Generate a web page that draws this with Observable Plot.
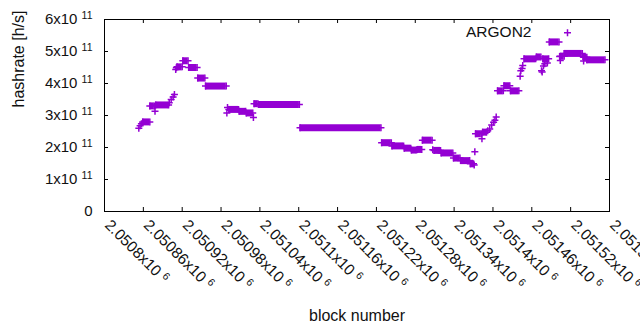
<!DOCTYPE html>
<html><head><meta charset="utf-8">
<script src="https://cdn.jsdelivr.net/npm/d3@7"></script>
<script src="https://cdn.jsdelivr.net/npm/@observablehq/plot@0.6"></script>
<style>body{margin:0;background:#fff} svg{font-family:"Liberation Sans",Arial,sans-serif}</style>
</head><body><div id="chart"></div>
<script>
// runs of consecutive blocks with the same hashrate (start block, end block, h/s)
const segStart = [2050859,2050870,2050879,2050912,2050921,2050930,2050944,2050956,2050992,2051008,2051019,2051031,2051038,2051102,2051228,2051244,2051263,2051274,2051283,2051291,2051309,2051320,2051339,2051350,2051365,2051373,2051384,2051407,2051417,2051427,2051448,2051467,2051477,2051487,2051504,2051510,2051540,2051545];
const segEnd   = [2050870,2050877,2050899,2050920,2050929,2050943,2050955,2050988,2051007,2051018,2051029,2051037,2051101,2051227,2051243,2051262,2051273,2051282,2051290,2051306,2051319,2051338,2051349,2051364,2051370,2051382,2051390,2051416,2051426,2051440,2051466,2051474,2051486,2051502,2051510,2051538,2051545,2051573];
const segValue = [2.80e11,3.30e11,3.33e11,4.52e11,4.71e11,4.50e11,4.17e11,3.92e11,3.19e11,3.13e11,3.08e11,3.37e11,3.34e11,2.62e11,2.15e11,2.05e11,1.98e11,1.92e11,1.94e11,2.23e11,1.91e11,1.83e11,1.67e11,1.59e11,1.49e11,2.43e11,2.48e11,3.77e11,3.93e11,3.77e11,4.77e11,4.83e11,4.77e11,5.30e11,4.85e11,4.94e11,4.82e11,4.74e11];
// isolated blocks
const ptBlock = [2050853,2050855,2050857,2050878,2050900,2050903,2050906,2050908,2050910,2050911,2050989,2050990,2051030,2051307,2051371,2051372,2051383,2051392,2051395,2051398,2051401,2051403,2051405,2051442,2051443,2051445,2051446,2051475,2051476,2051478,2051480,2051484,2051503,2051504,2051539,2051540];
const ptValue = [2.60e11,2.68e11,2.74e11,3.13e11,3.40e11,3.50e11,3.58e11,3.66e11,4.44e11,4.49e11,3.08e11,3.25e11,2.94e11,1.93e11,1.45e11,1.87e11,2.27e11,2.52e11,2.58e11,2.70e11,2.79e11,2.85e11,2.95e11,4.23e11,4.40e11,4.47e11,4.56e11,4.40e11,4.36e11,4.55e11,4.62e11,4.64e11,4.84e11,4.72e11,4.84e11,4.70e11];

const xTicks = [2050800,2050860,2050920,2050980,2051040,2051100,2051160,2051220,2051280,2051340,2051400,2051460,2051520,2051580];
const xTickLabels = ["2.0508x10^6","2.05086x10^6","2.05092x10^6","2.05098x10^6","2.05104x10^6","2.0511x10^6","2.05116x10^6","2.05122x10^6","2.05128x10^6","2.05134x10^6","2.0514x10^6","2.05146x10^6","2.05152x10^6","2.05158x10^6"];
const yTicks = [0,1e11,2e11,3e11,4e11,5e11,6e11];
const yTickLabels = ["0","1x10^11","2x10^11","3x10^11","4x10^11","5x10^11","6x10^11"];
const seriesName = "ARGON2";
const color = "#9400d3";

const segs = segStart.map((s,i)=>({x1:s, x2:segEnd[i], y:segValue[i]}));
const pts = ptBlock.map((b,i)=>({x:b, y:ptValue[i]}));
const crosses = pts.concat(segs.flatMap(d=>[{x:d.x1,y:d.y},{x:d.x2,y:d.y}]));

const cross = {draw(ctx, size){ const r = Math.sqrt(size/Math.PI); ctx.moveTo(-r,0); ctx.lineTo(r,0); ctx.moveTo(0,-r); ctx.lineTo(0,r); }};

const W = 640, H = 330, mL = 104, mR = 31, mT = 19, mB = 119;
const fw = W-mL-mR, fh = H-mT-mB;

const chart = Plot.plot({
  width: W, height: H,
  marginLeft: mL, marginRight: mR, marginTop: mT, marginBottom: mB,
  style: {fontFamily: '"Liberation Sans", Arial, sans-serif', background: "#fff"},
  x: {domain: [xTicks[0], xTicks[xTicks.length-1]], axis: null},
  y: {domain: [yTicks[0], yTicks[yTicks.length-1]], axis: null},
  marks: [
    Plot.ruleY(segs, {x1:"x1", x2:"x2", y:"y", stroke: color, strokeWidth: 7}),
    Plot.dot(crosses, {x:"x", y:"y", symbol: cross, r: 3.5, fill: "none", stroke: color, strokeWidth: 1.5}),
    Plot.frame({stroke: "black", strokeWidth: 1}),
    Plot.tickY(yTicks, {y: d=>d, insetRight: fw-4, stroke: "black"}),
    Plot.tickY(yTicks, {y: d=>d, insetLeft: fw-4, stroke: "black"}),
    Plot.tickX(xTicks, {x: d=>d, insetTop: fh-4, stroke: "black"}),
    Plot.tickX(xTicks, {x: d=>d, insetBottom: fh-4, stroke: "black"}),
    Plot.text(yTicks, {y: d=>d, frameAnchor: "left", text: (d,i)=>yTickLabels[i], textAnchor: "end", lineAnchor: "middle", dx: -12, fontSize: 15, fill: "#111"}),
    Plot.text(xTicks, {x: d=>d, frameAnchor: "bottom", text: (d,i)=>xTickLabels[i], rotate: 45, textAnchor: "start", lineAnchor: "middle", dx: 3, dy: 11, fontSize: 15.5, fill: "#111"}),
    Plot.text(["hashrate [h/s]"], {frameAnchor: "left", lineAnchor: "middle", dx: -86, dy: -8, rotate: -90, fontSize: 16, fill: "#111"}),
    Plot.text(["block number"], {frameAnchor: "bottom", lineAnchor: "middle", dy: 104, fontSize: 16, fill: "#111"}),
    Plot.text([seriesName], {frameAnchor: "top-right", textAnchor: "end", lineAnchor: "middle", dx: -78, dy: 12.5, fontSize: 15.5, fill: "#111"}),
    Plot.dot([seriesName], {frameAnchor: "top-right", dx: -42, dy: 13.3, symbol: cross, r: 3.5, fill: "none", stroke: color, strokeWidth: 1.5})
  ]
});

// render "^" exponents as raised, smaller text (gnuplot enhanced text style)
chart.querySelectorAll("text").forEach(t => {
  const s = t.textContent;
  const i = s.indexOf("^");
  if (i < 0) return;
  t.textContent = s.slice(0, i) + " ";
  const sp = document.createElementNS("http://www.w3.org/2000/svg", "tspan");
  sp.setAttribute("font-size", "10.5");
  sp.setAttribute("dy", "-5");
  sp.textContent = s.slice(i + 1);
  t.appendChild(sp);
});
document.getElementById("chart").appendChild(chart);
</script>
</body></html>
